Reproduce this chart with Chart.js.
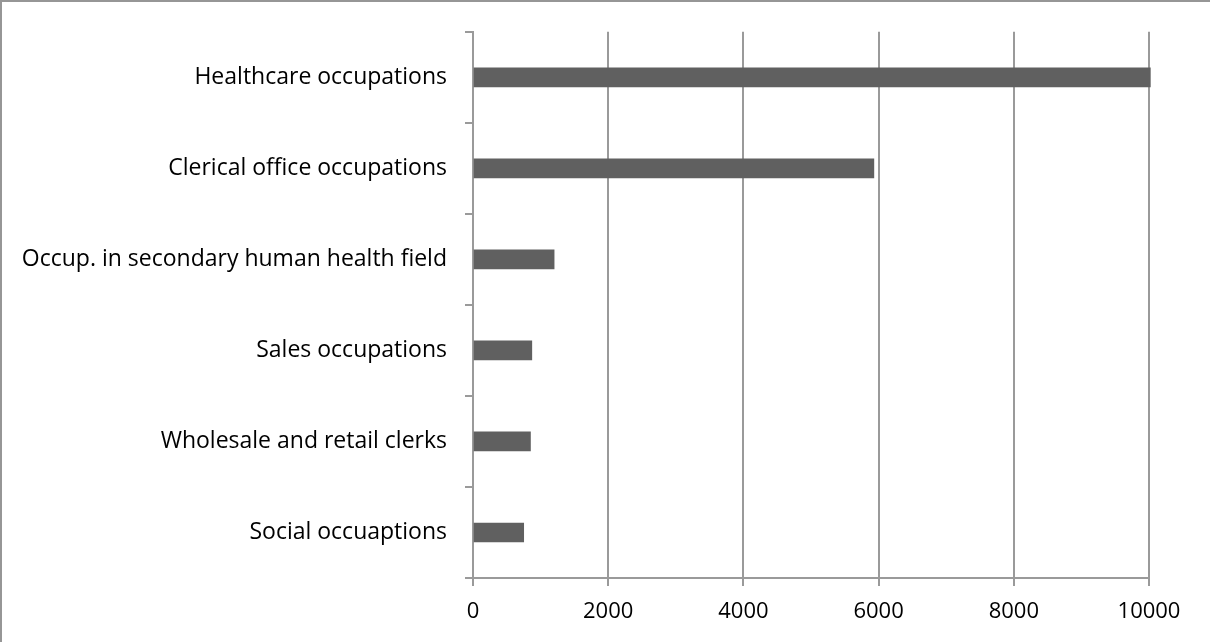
<!DOCTYPE html>
<html lang="en">
<head>
  <meta charset="UTF-8">
  <title>Occupations</title>
  <script src="https://cdn.jsdelivr.net/npm/chart.js"></script>
  <style>
    html, body { margin: 0; padding: 0; background: #fff; }
    .frame {
      position: relative;
      width: 1210px;
      height: 642px;
      box-sizing: border-box;
      border-top: 2px solid #969696;
      border-left: 2px solid #969696;
    }
    canvas { position: absolute; left: -2px; top: -2px; }
  </style>
</head>
<body>
  <div class="frame">
    <canvas id="chart" width="1210" height="642"></canvas>
  </div>

  <script>
    const categories = [
      "Healthcare occupations",
      "Clerical office occupations",
      "Occup. in secondary human health field",
      "Sales occupations",
      "Wholesale and retail clerks",
      "Social occuaptions"
    ];
    const values = [10020, 5930, 1200, 870, 850, 750];
    const xTicks = [0, 2000, 4000, 6000, 8000, 10000];

    const axisGray = "#9a9a9a";

    new Chart(document.getElementById("chart"), {
      type: "bar",
      data: {
        labels: categories,
        datasets: [{
          data: values,
          backgroundColor: "#606060",
          borderWidth: 0,
          barThickness: 19,
          clip: false
        }]
      },
      options: {
        indexAxis: "y",
        responsive: false,
        animation: false,
        layout: { padding: { top: 30, right: 61, bottom: 0, left: 0 } },
        plugins: {
          legend: { display: false },
          tooltip: { enabled: false }
        },
        scales: {
          x: {
            min: xTicks[0],
            max: xTicks[xTicks.length - 1],
            afterBuildTicks: (axis) => { axis.ticks = xTicks.map(v => ({ value: v })); },
            afterFit: (axis) => { axis.height = 64; },
            grid: { color: axisGray, lineWidth: 2, tickLength: 8 },
            border: { display: true, color: axisGray, width: 2 },
            ticks: {
              color: "#000",
              font: { family: "'Open Sans', sans-serif", size: 22 },
              padding: 13,
              maxRotation: 0,
              callback: (v) => String(v)
            }
          },
          y: {
            afterFit: (axis) => { axis.width = 473; },
            grid: { drawOnChartArea: false, color: axisGray, lineWidth: 2, tickLength: 8, offset: true },
            border: { display: true, color: axisGray, width: 2 },
            ticks: {
              color: "#000",
              font: { family: "'Open Sans', sans-serif", size: 23 },
              padding: 18
            }
          }
        }
      }
    });
  </script>
</body>
</html>
